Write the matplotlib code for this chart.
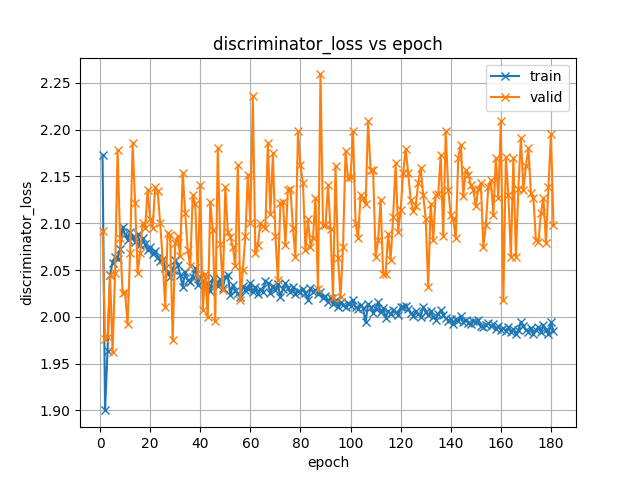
import matplotlib
matplotlib.use("Agg")
import matplotlib.pyplot as plt

train = [2.173, 1.900, 1.964, 2.045, 2.058, 2.064, 2.062, 2.072, 2.096, 2.088,
         2.082, 2.091, 2.085, 2.080, 2.089, 2.077, 2.084, 2.078, 2.071, 2.075,
         2.067, 2.070, 2.064, 2.060, 2.062, 2.052, 2.047, 2.043, 2.050, 2.061,
         2.055, 2.045, 2.032, 2.048, 2.039, 2.037, 2.043, 2.052, 2.034, 2.043,
         2.038, 2.030, 2.036, 2.028, 2.041, 2.036, 2.033, 2.040, 2.031, 2.043,
         2.045, 2.023, 2.034, 2.028, 2.025, 2.021, 2.033, 2.029, 2.030, 2.036,
         2.026, 2.032, 2.024, 2.030, 2.027, 2.038, 2.036, 2.025, 2.033, 2.029,
         2.035, 2.021, 2.030, 2.036, 2.031, 2.026, 2.032, 2.024, 2.028, 2.026,
         2.030, 2.025, 2.018, 2.031, 2.026, 2.029, 2.024, 2.027, 2.020, 2.022,
         2.016, 2.020, 2.014, 2.018, 2.011, 2.016, 2.013, 2.010, 2.015, 2.012,
         2.018, 2.010, 2.008, 2.013, 2.009, 1.994, 2.014, 2.010, 2.004, 2.008,
         2.016, 2.005, 2.009, 1.999, 2.006, 2.003, 2.007, 2.005, 2.002, 2.010,
         2.011, 2.012, 2.008, 2.004, 2.001, 2.006, 2.003, 2.000, 2.011, 2.005,
         2.002, 2.006, 2.000, 1.997, 2.003, 2.007, 2.002, 1.999, 1.996, 1.998,
         1.992, 1.998, 1.995, 2.001, 1.994, 1.997, 1.993, 1.992, 1.996, 1.994,
         1.997, 1.990, 1.989, 1.991, 1.993, 1.990, 1.992, 1.987, 1.990, 1.986,
         1.988, 1.985, 1.989, 1.984, 1.987, 1.982, 1.986, 1.994, 1.990, 1.986,
         1.984, 1.988, 1.982, 1.986, 1.989, 1.984, 1.991, 1.986, 1.982, 1.994, 1.985]

valid = [2.092, 1.976, 1.978, 2.045, 1.962, 2.047, 2.178, 2.084, 2.025, 2.026,
         1.992, 2.068, 2.186, 2.122, 2.047, 2.068, 2.100, 2.095, 2.136, 2.104,
         2.095, 2.139, 2.134, 2.100, 2.061, 2.011, 2.090, 2.087, 1.975, 2.079,
         2.086, 2.065, 2.154, 2.111, 2.071, 2.054, 2.130, 2.121, 2.043, 2.141,
         2.007, 2.046, 2.000, 2.123, 2.093, 1.996, 2.180, 2.078, 2.029, 2.139,
         2.091, 2.085, 2.075, 2.054, 2.162, 2.018, 2.050, 2.086, 2.152, 2.100,
         2.236, 2.068, 2.077, 2.100, 2.097, 2.095, 2.186, 2.110, 2.175, 2.086,
         2.039, 2.122, 2.123, 2.077, 2.136, 2.137, 2.095, 2.064, 2.198, 2.162,
         2.143, 2.071, 2.104, 2.075, 2.084, 2.127, 2.030, 2.259, 2.098, 2.098,
         2.141, 2.094, 2.020, 2.161, 2.063, 2.021, 2.075, 2.177, 2.148, 2.149,
         2.198, 2.100, 2.084, 2.130, 2.127, 2.120, 2.209, 2.157, 2.157, 2.064,
         2.082, 2.125, 2.046, 2.046, 2.089, 2.061, 2.107, 2.164, 2.091, 2.114,
         2.154, 2.179, 2.154, 2.125, 2.113, 2.118, 2.143, 2.159, 2.130, 2.105,
         2.032, 2.121, 2.082, 2.130, 2.131, 2.173, 2.086, 2.198, 2.136, 2.109,
         2.104, 2.084, 2.170, 2.184, 2.129, 2.157, 2.152, 2.141, 2.136, 2.118,
         2.137, 2.143, 2.075, 2.098, 2.139, 2.146, 2.109, 2.170, 2.127, 2.209,
         2.018, 2.171, 2.130, 2.064, 2.170, 2.064, 2.137, 2.191, 2.136, 2.161,
         2.180, 2.132, 2.127, 2.082, 2.080, 2.111, 2.127, 2.079, 2.139, 2.195, 2.098]

epochs = list(range(1, len(train) + 1))

fig, ax = plt.subplots(figsize=(6.4, 4.8), dpi=100)
ax.plot(epochs, train, marker='x', label='train')
ax.plot(epochs, valid, marker='x', label='valid')
ax.set_title('discriminator_loss vs epoch')
ax.set_xlabel('epoch')
ax.set_ylabel('discriminator_loss')
ax.set_xticks(range(0, 181, 20))
ax.legend()
ax.grid(True)

fig.savefig('out.png')
